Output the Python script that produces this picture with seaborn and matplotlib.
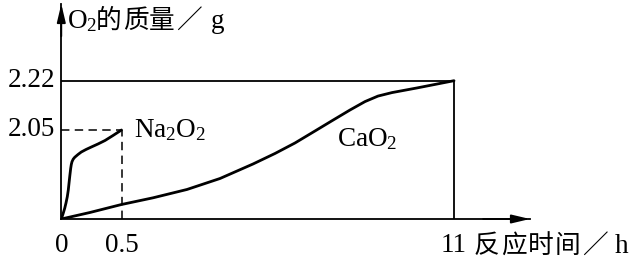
import numpy as np
import matplotlib
matplotlib.use("Agg")
import matplotlib.pyplot as plt
import matplotlib.transforms as mtransforms
import seaborn as sns

# ---------------- data ----------------
na_time = [0, 0.0141, 0.0282, 0.039, 0.0498, 0.0581, 0.064, 0.0706, 0.0781, 0.0831,
           0.0889, 0.0988, 0.1113, 0.1387, 0.1661, 0.2051, 0.2492, 0.3048, 0.363,
           0.4294, 0.5]
na_mass = [0, 0.115, 0.246, 0.369, 0.514, 0.668, 0.822, 0.991, 1.168, 1.256,
           1.32, 1.378, 1.421, 1.486, 1.543, 1.601, 1.658, 1.728, 1.808,
           1.923, 2.05]
ca_time = [0, 0.238, 0.5, 1.495, 2.568, 3.611, 4.653, 5.347, 5.979, 6.61, 7.179,
           7.716, 8.19, 8.6, 9.042, 9.831, 11]
ca_mass = [0, 0.15, 0.334, 0.488, 0.68, 0.933, 1.267, 1.509, 1.751, 2.027, 2.084,
           2.119, 2.148, 2.167, 2.179, 2.195, 2.22]
x_ticks = [0, 0.5, 11]
x_tick_labels = ["0", "0.5", "11"]
y_ticks = [2.05, 2.22]
y_tick_labels = ["2.05", "2.22"]
na_end_time, na_end_mass = 0.5, 2.05
ca_end_time, ca_end_mass = 11, 2.22
na_label = r"Na$_2$O$_2$"
ca_label = r"CaO$_2$"
y_title_parts = [r"O$_2$", "的", "质", "量", "／", "g"]
x_title_parts = ["反", "应", "时", "间", "／", "h"]

# ---------------- layout (schematic, non-linear axes) ----------------
W, H = 638, 258
x_knots, x_knots_px = [0, 0.5, 11], [0, 60.2, 392.7]
y_knots, y_knots_px = [0, 2.05, 2.22], [0, 89.0, 138.3]


def piecewise(xk, yk):
    xk = np.asarray(xk, float)
    yk = np.asarray(yk, float)
    s0 = (yk[1] - yk[0]) / (xk[1] - xk[0])
    s1 = (yk[-1] - yk[-2]) / (xk[-1] - xk[-2])

    def f(v):
        v = np.asarray(v, float)
        out = np.interp(v, xk, yk)
        out = np.where(v < xk[0], yk[0] + (v - xk[0]) * s0, out)
        out = np.where(v > xk[-1], yk[-1] + (v - xk[-1]) * s1, out)
        return out
    return f


fx, ix = piecewise(x_knots, x_knots_px), piecewise(x_knots_px, x_knots)
fy, iy = piecewise(y_knots, y_knots_px), piecewise(y_knots_px, y_knots)

sns.set_style("white")
SERIF = "Liberation Serif"
CJK = "Noto Sans CJK SC"
plt.rcParams["font.family"] = [SERIF, CJK]
plt.rcParams["mathtext.fontset"] = "custom"
plt.rcParams["mathtext.rm"] = SERIF
plt.rcParams["mathtext.default"] = "regular"

fig = plt.figure(figsize=(W / 100, H / 100), dpi=100)
ax_l, ax_r, ax_b, ax_t = 61.3, 530.0, 219.0, 4.0
ax = fig.add_axes([ax_l / W, (H - ax_b) / H, (ax_r - ax_l) / W, (ax_b - ax_t) / H])
ax.set_xscale("function", functions=(fx, ix))
ax.set_yscale("function", functions=(fy, iy))
ax.set_xlim(0, float(ix(ax_r - ax_l)))
ax.set_ylim(0, float(iy(ax_b - ax_t)))

# curves
sns.lineplot(x=ca_time, y=ca_mass, ax=ax, color="black", lw=2.0,
             sort=False, estimator=None, legend=False)
sns.lineplot(x=na_time, y=na_mass, ax=ax, color="black", lw=2.0,
             sort=False, estimator=None, legend=False)
for ln in ax.lines:
    ln.set_solid_joinstyle("round")
    ln.set_solid_capstyle("round")

# frame lines for CaO2 end point
ax.plot([0, ca_end_time], [ca_end_mass, ca_end_mass], color="black", lw=1.3)
ax.plot([ca_end_time, ca_end_time], [0, ca_end_mass], color="black", lw=1.3)
# dashed guides for Na2O2 end point
ax.plot([0, na_end_time], [na_end_mass, na_end_mass], color="black", lw=1.1,
        ls=(0, (5.5, 3.5)))
ax.plot([na_end_time, na_end_time], [0, na_end_mass], color="black", lw=1.1,
        ls=(0, (5.5, 3.5)))

# spines & arrows
for s in ["top", "right"]:
    ax.spines[s].set_visible(False)
for s in ["left", "bottom"]:
    ax.spines[s].set_color("black")
    ax.spines[s].set_linewidth(1.3)
arrow = dict(arrowstyle="-|>,head_length=0.55,head_width=0.13", color="black",
             lw=1.3, shrinkA=0, shrinkB=0, mutation_scale=20)
ax.annotate("", xy=(1, 0), xytext=(0.9, 0), xycoords="axes fraction",
            arrowprops=arrow, annotation_clip=False)
ax.annotate("", xy=(0, 1), xytext=(0, 0.85), xycoords="axes fraction",
            arrowprops=arrow, annotation_clip=False)

ax.set_xticks(x_ticks)
ax.set_xticklabels(x_tick_labels)
ax.set_yticks(y_ticks)
ax.set_yticklabels(y_tick_labels)
ax.minorticks_off()
ax.tick_params(axis="x", length=0, pad=10, labelsize=19.5, colors="black")
ax.tick_params(axis="y", length=0, pad=4.5, labelsize=19.5, colors="black")
for lab in ax.get_yticklabels():
    lab.set_verticalalignment("center")
ax.set_xlabel("")
ax.set_ylabel("")
ax.grid(False)

# ---------------- texts ----------------
ident = mtransforms.IdentityTransform()


def put(x_px, base_px, s, fam, size):
    fig.text(x_px, H - base_px, s, transform=ident, ha="left", va="baseline",
             family=fam, fontsize=size, color="black")


# series labels
put(134, 137, na_label, SERIF, 19.5)
put(337, 146, ca_label, SERIF, 19.5)

# y axis title
y_title_x = [67, 96, 123, 149, 176, 211]
for s, xp in zip(y_title_parts, y_title_x):
    fam = CJK if ord(s[0]) > 255 else SERIF
    put(xp, 28, s, fam, 18.5 if fam == CJK else 19.5)

# x axis title
x_title_x = [474, 501, 528, 555, 582, 615]
for s, xp in zip(x_title_parts, x_title_x):
    fam = CJK if ord(s[0]) > 255 else SERIF
    put(xp, 253, s, fam, 18.5 if fam == CJK else 19.5)

fig.savefig("out.png", dpi=100, facecolor="white")
